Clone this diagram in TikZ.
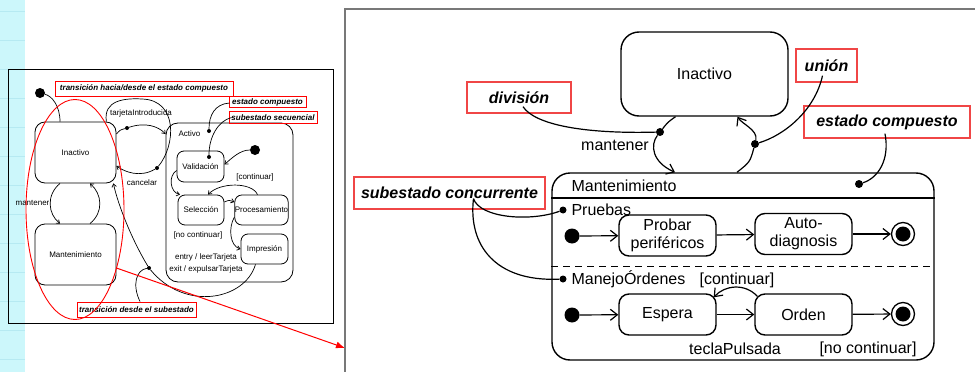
\documentclass[tikz,border=0pt]{standalone}
\usepackage{fontspec}
\setmainfont{Liberation Sans}
\usetikzlibrary{arrows.meta}

\definecolor{notared}{RGB}{240,70,70}
\definecolor{fondocian}{RGB}{204,247,251}
\definecolor{lineacian}{RGB}{182,234,242}
\definecolor{marcogris}{RGB}{120,120,120}

\newcommand{\grande}{\fontsize{16}{18}\selectfont}
\newcommand{\chico}{\fontsize{8}{9.5}\selectfont}

\begin{document}
\begin{tikzpicture}[x=1pt,y=-1pt,
    estado/.style={draw, rounded corners=10pt, line width=1.4pt, font=\grande, align=center, inner sep=0pt},
    sub/.style={estado, minimum width=97pt, minimum height=41pt},
    nota/.style={draw=notared, line width=1.3pt, font=\grande\bfseries\itshape, inner sep=0pt},
    trans/.style={line width=1.2pt, -{Straight Barb[length=7pt,width=11pt]}},
    conn/.style={line width=1.2pt},
    punto/.style={circle, fill, inner sep=0pt, minimum size=8pt},
    puntito/.style={circle, fill, inner sep=0pt, minimum size=7pt},
    inicial/.style={circle, fill, inner sep=0pt, minimum size=15pt},
    final/.style={circle, draw, line width=1.3pt, inner sep=0pt, minimum size=23pt,
      path picture={\fill (path picture bounding box.center) circle (7.5pt);}},
    texto/.style={font=\grande},
    estadoL/.style={draw, rounded corners=7pt, line width=0.8pt, font=\chico, inner sep=0pt},
    notaL/.style={draw=red, line width=1pt, font=\chico\bfseries\itshape, inner sep=0pt},
    transL/.style={line width=0.7pt, -{Straight Barb[length=3pt,width=4.5pt]}},
    connL/.style={line width=0.7pt},
    puntoL/.style={circle, fill, inner sep=0pt, minimum size=4pt},
    inicialL/.style={circle, fill, inner sep=0pt, minimum size=10pt},
    textoL/.style={font=\chico}]

  \useasboundingbox (0,0) rectangle (975,372);
  \fill[white] (0,0) rectangle (975,372);

  % franja de la diapositiva
  \fill[fondocian] (0,0) rectangle (25,372);
  \foreach \y in {11,40,...,372}
    \draw[lineacian, line width=0.6pt] (0,\y) -- (25,\y);

  % ---------- diagrama pequeno ----------
  \draw[line width=0.9pt] (8,69) rectangle (333,323);

  \node[estadoL, rounded corners=10pt, minimum width=81pt, minimum height=61pt] (inactL) at (75.5,152.5) {Inactivo};
  \node[estadoL, rounded corners=10pt, minimum width=81pt, minimum height=61pt] (mantL) at (75.5,254.5) {Mantenimiento};
  \node[estadoL, rounded corners=12pt, minimum width=127pt, minimum height=159pt] (activo) at (229.5,202.5) {};
  \node[textoL] (activoT) at (189.5,134) {Activo};
  \node[estadoL, minimum width=47pt, minimum height=31pt] (valid) at (200.5,166.5) {Validación};
  \node[estadoL, minimum width=46pt, minimum height=30pt] (selec) at (201,210) {Selección};
  \node[estadoL, minimum width=53pt, minimum height=30pt] (proces) at (261.5,210) {Procesamiento};
  \node[estadoL, minimum width=47pt, minimum height=30pt] (impres) at (264.5,249) {Impresión};

  \node[inicialL] (initL) at (40,93) {};
  \node[inicialL] (initA) at (255,150) {};
  \node[puntoL] (dotA) at (127,128) {};
  \node[puntoL] (dotB) at (157,168) {};
  \node[puntoL] (dotE) at (209,131) {};
  \node[puntoL] (dotV) at (209,157) {};
  \node[puntoL] (dotT) at (149,268) {};

  \node[textoL] (mantenerL) at (32.5,203) {mantener};
  \node[textoL] (tarjeta) at (141,113) {tarjetaIntroducida};
  \node[textoL] (cancelar) at (142,183) {cancelar};
  \node[textoL] (contL) at (255,177) {[continuar]};
  \node[textoL] (nocontL) at (198,235) {[no continuar]};
  \node[textoL] (entry) at (206,257) {entry / leerTarjeta};
  \node[textoL] (exit) at (206,269) {exit / expulsarTarjeta};

  \node[notaL, minimum width=178pt, minimum height=15pt] (trcomp) at (144,88.5) {transición hacia/desde el estado compuesto};
  \node[notaL, minimum width=77pt, minimum height=11pt] (ecompL) at (267.5,102) {estado compuesto};
  \node[notaL, minimum width=88pt, minimum height=11.5pt] (subsec) at (273,117.5) {subestado secuencial};
  \node[notaL, minimum width=119pt, minimum height=15pt] (trsub) at (136.5,309.5) {transición desde el subestado};

  \draw[connL] (initL) .. controls (52,96) and (60,106) .. ([xshift=-15.5pt]inactL.north);
  \draw[transL] ([xshift=-15.5pt]inactL.south) .. controls (46,195) and (48,214) .. ([xshift=-15.5pt]mantL.north);
  \draw[transL] ([xshift=14.5pt]mantL.north) .. controls (104,212) and (102,194) .. ([xshift=14.5pt]inactL.south);
  \draw[transL] ([yshift=18.5pt]inactL.east) .. controls (120,130) .. (dotA) .. controls (145,122) and (158,126) .. ([yshift=68.5pt]activo.west);
  \draw[connL] ([xshift=-10pt]inactL.north east) .. controls (103,100) and (125,98) .. (142,99) .. controls (178,100) and (176,145) .. (dotB);
  \draw[transL] (dotB) .. controls (140,178) and (125,172) .. ([yshift=-13.5pt]inactL.east);
  \draw[connL] ([xshift=1pt,yshift=-1pt]ecompL.west) .. controls (215,104) and (209,115) .. (dotE);
  \draw[connL] ([xshift=3pt]subsec.west) .. controls (218,121) and (209,137) .. (dotV);
  \draw[transL] (initA) .. controls (240,150) and (232,158) .. ([yshift=2pt]valid.east);
  \draw[transL] ([yshift=-4pt]valid.west) .. controls (168,176) and (170,192) .. ([xshift=-21pt]selec.north);
  \draw[transL] ([xshift=-4pt]proces.north) .. controls (252,182) and (220,182) .. ([xshift=7pt]selec.north);
  \draw[transL] ([yshift=8pt]selec.east) .. controls (229,200) .. ([yshift=8pt]proces.west);
  \draw[transL] ([yshift=-7pt]proces.west) .. controls (228,228) and (230,246) .. (impres.west);
  \draw[transL] ([xshift=-9pt]impres.south) .. controls (245,300) and (185,312) .. (dotT) .. controls (132,240) and (118,205) .. ([xshift=-3pt]inactL.south east);
  \draw[connL] ([xshift=3.5pt]trsub.north) .. controls (132,285) and (136,270) .. (dotT);

  % resaltado y flecha de ampliacion
  \draw[red, line width=0.9pt] (75,209.5) ellipse [x radius=49, y radius=110];
  \coordinate (lupa) at (345,348);
  \draw[red, line width=1pt, -{Latex[length=9pt,width=7pt]}] ([yshift=-13.5pt]mantL.east) -- (lupa);

  % ---------- diagrama ampliado ----------
  \draw[marcogris, line width=1.5pt] (345,372) -- (345,9) -- (975,9);

  \node[estado, rounded corners=18pt, minimum width=167pt, minimum height=84pt] (inact) at (704.5,74) {Inactivo};
  \node[estado, rounded corners=18pt, minimum width=382pt, minimum height=187pt] (mant) at (743,266.5) {};
  \coordinate (cab) at (0,198);
  \draw[line width=1.4pt] (mant.west |- cab) -- (mant.east |- cab);
  \draw[line width=1.2pt, dash pattern=on 7pt off 5pt] (mant.west) -- (mant.east);

  \node[texto, anchor=west] (mantT) at (568,186) {Mantenimiento};
  \node[puntito] (pr) at (563,210) {};
  \node[texto, anchor=west] (pruebas) at (568,210) {Pruebas};
  \node[puntito] (mo) at (563,279) {};
  \node[texto, anchor=west] (manejo) at (568,279) {ManejoÓrdenes};

  \node[inicial] (ini1) at (572,236) {};
  \node[sub] (probar) at (667.5,235.5) {Probar\\periféricos};
  \node[sub] (auto) at (803.5,234) {Auto-\\diagnosis};
  \node[final] (fin1) at (903,234) {};

  \node[inicial] (ini2) at (572,315) {};
  \node[sub] (espera) at (667.5,314.5) {Espera};
  \node[sub] (orden) at (803.5,314.5) {Orden};
  \node[final] (fin2) at (903,314) {};

  \node[texto] (cont) at (737,280) {[continuar]};
  \node[texto] (tecla) at (735,349) {teclaPulsada};
  \node[texto] (nocont) at (868,349) {[no continuar]};
  \node[texto] (mantener) at (615,145) {mantener};

  \node[punto] (fork) at (660,132) {};
  \node[punto] (join) at (755,144) {};
  \node[punto] (mdot) at (859,184) {};

  \node[nota, minimum width=104pt, minimum height=31pt] (division) at (519,97.5) {división};
  \node[nota, minimum width=61pt, minimum height=33pt] (union) at (826.5,65.5) {unión};
  \node[nota, minimum width=166pt, minimum height=32pt] (ecomp) at (887,122) {estado compuesto};
  \node[nota, minimum width=191pt, minimum height=32pt] (subconc) at (449.5,193) {subestado concurrente};

  \draw[trans] (ini1) -- (probar);
  \draw[trans] (probar) -- (auto);
  \draw[trans] (auto) -- (fin1);
  \draw[trans] (ini2) -- (espera);
  \draw[trans] (espera) -- (orden);
  \draw[trans] (orden) -- (fin2);
  \draw[trans] ([xshift=3pt,yshift=-3pt]orden.north west) .. controls (745,283) and (725,285) .. ([xshift=-3pt,yshift=-4pt]espera.north east);

  \draw[trans] ([xshift=-29pt]inact.south) .. controls (668,122) .. (fork) .. controls (650,145) and (652,162) .. ([xshift=-68pt]mant.north);
  \draw[trans] ([xshift=-6pt]mant.north) .. controls (750,162) .. (join) .. controls (758,130) and (742,124) .. ([xshift=33pt]inact.south);

  \draw[conn] ([xshift=4pt,yshift=7pt]division.south) .. controls (535,125) and (585,134) .. (fork);
  \draw[conn] ([xshift=-4pt,yshift=7pt]union.south) .. controls (815,110) and (785,135) .. (join);
  \draw[conn] ([xshift=-2pt,yshift=5pt]ecomp.south) .. controls (890,160) and (878,178) .. (mdot);
  \draw[conn] ([xshift=24pt,yshift=11pt]subconc.south) .. controls (480,218) and (530,222) .. (pr);
  \draw[conn] ([xshift=24pt,yshift=11pt]subconc.south) .. controls (468,245) and (495,282) .. (mo);

\end{tikzpicture}
\end{document}
